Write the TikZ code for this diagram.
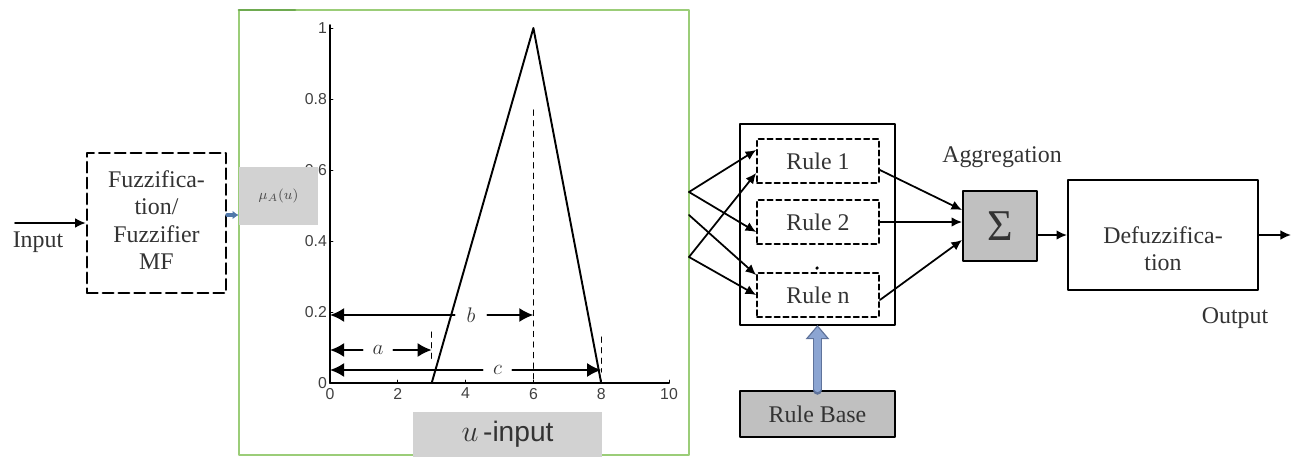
\documentclass[tikz,border=0pt]{standalone}
\usepackage{fontspec}
\setmainfont{Liberation Serif}
\setsansfont{Liberation Sans}
\usetikzlibrary{arrows.meta,positioning}
\definecolor{panelgreen}{RGB}{155,205,120}
\definecolor{darkgreen}{RGB}{110,170,80}
\definecolor{boxgray}{RGB}{192,192,192}
\definecolor{softgray}{RGB}{210,210,210}
\definecolor{arrowblue}{RGB}{140,165,210}
\definecolor{edgeblue}{RGB}{95,115,155}
\definecolor{smallblue}{RGB}{80,120,170}

\begin{document}
\begin{tikzpicture}[x=0.02cm,y=-0.02cm,line cap=round,line join=round,>={Latex[length=6pt,width=5.5pt]},
  every node/.style={inner sep=1pt},
  lbl/.style={font=\fontsize{13.6}{15.5}\selectfont,text=black!80,align=center},
  blockbox/.style={draw,line width=1.1pt,lbl},
  rulebox/.style={draw,densely dashed,line width=1pt,lbl,minimum width={122*0.02cm},minimum height={44*0.02cm}},
  ticklbl/.style={font=\sffamily\fontsize{9}{10}\selectfont,text=black!75},
  dimlbl/.style={font=\fontsize{11.5}{12}\selectfont,text=black!80,inner sep=0pt,minimum height=0.3cm},
  dimarrow/.style={-{Latex[length=8pt,width=8pt]},line width=1.2pt}]
  \useasboundingbox (0,0) rectangle (1292,457);
  % fuzzification
  \node[blockbox,dashed,dash pattern=on 6pt off 3pt,line width=1.4pt,minimum width={139*0.02cm},minimum height={140*0.02cm}] (fuzz) at (156.5,223) {};
  \node[lbl] at (156.5,220) {Fuzzifica-\\tion/\\Fuzzifier\\MF};
  \coordinate (in) at (15,223);
  \draw[->,line width=1.1pt] (in) -- (fuzz.west);
  \node[lbl] (inlbl) at (38,242) {Input};
  % membership panel
  \draw[panelgreen,line width=1.3pt] (239,10) rectangle (689,455);
  \draw[darkgreen,line width=1.6pt] (239,10) -- (295,10);
  \def\ox{330}
  \def\oy{383}
  \def\sx{33.9}
  \def\sy{355}
  \draw[line width=1pt] (\ox,\oy) -- ({\ox+10*\sx},\oy);
  \draw[line width=1pt] (\ox,\oy) -- (\ox,{\oy-\sy-3});
  \foreach \k in {0,2,...,10} {
    \draw[line width=0.5pt] ({\ox+\k*\sx},\oy) -- ({\ox+\k*\sx},{\oy-3});
    \node[ticklbl,anchor=north] at ({\ox+\k*\sx},{\oy+3}) {\k};
  }
  \foreach \v/\t in {0/0,0.2/0.2,0.4/0.4,0.6/0.6,0.8/0.8,1/1} {
    \draw[line width=0.5pt] (\ox,{\oy-\v*\sy}) -- ({\ox+3},{\oy-\v*\sy});
    \node[ticklbl,anchor=east] at ({\ox-1},{\oy-\v*\sy}) {\t};
  }
  \draw[line width=1.1pt] ({\ox+3*\sx},\oy) -- ({\ox+6*\sx},{\oy-\sy}) -- ({\ox+8*\sx},\oy);
  \draw[dashed,line width=0.6pt] ({\ox+6*\sx},110) -- ({\ox+6*\sx},\oy);
  \draw[dashed,line width=0.6pt] ({\ox+3*\sx},332) -- ({\ox+3*\sx},362);
  \draw[dashed,line width=0.6pt] ({\ox+8*\sx},337) -- ({\ox+8*\sx},372);
  \coordinate (a0) at (\ox,350);
  \coordinate (a1) at ({\ox+3*\sx},350);
  \coordinate (b0) at (\ox,315);
  \coordinate (b1) at ({\ox+6*\sx},315);
  \coordinate (c0) at (\ox,370);
  \coordinate (c1) at ({\ox+8*\sx},370);
  \node[dimlbl,minimum width=0.6cm] (la) at (378,350) {$a$};
  \node[dimlbl,minimum width=0.64cm] (lb) at (471,315) {$b$};
  \node[dimlbl,minimum width=0.58cm] (lc) at (497.5,370) {$c$};
  \draw[dimarrow] (la) -- (a0);
  \draw[dimarrow] (la) -- (a1);
  \draw[dimarrow] (lb) -- (b0);
  \draw[dimarrow] (lb) -- (b1);
  \draw[dimarrow] (lc) -- (c0);
  \draw[dimarrow] (lc) -- (c1);
  \node[fill=softgray,minimum width={79*0.02cm},minimum height={58*0.02cm},font=\fontsize{8}{9}\selectfont,text=black!70] (mubox) at (278.5,196) {$\mu_A(u)$};
  \node[fill=softgray,minimum width={189*0.02cm},minimum height={45*0.02cm},font=\fontsize{16}{18}\selectfont,text=black!80] (uin) at (507.5,434.5) {$u$\,\sffamily -input};
  \draw[smallblue,line width=2.2pt,-{Latex[length=3.5pt,width=5pt]}] ([yshift=0.16cm]fuzz.east) -- ([yshift=0.16cm]fuzz.east -| mubox.west);
  % rules
  \node[draw,line width=1.2pt,minimum width={155*0.02cm},minimum height={201*0.02cm}] (outer) at (817.5,224.5) {};
  \node[rulebox] (rule1) at (818,161) {Rule 1};
  \node[rulebox] (rule2) at (818,222) {Rule 2};
  \node[rulebox] (rulen) at (818,295) {Rule n};
  \fill (817,268) circle[radius=1pt];
  \coordinate (s1) at (689,192);
  \coordinate (s2) at (689,215);
  \coordinate (s3) at (689,257);
  \draw[->,line width=1pt] (s1) -- ([yshift=0.22cm]rule1.west);
  \draw[->,line width=1pt] (s1) -- ([yshift=-0.2cm]rule2.west);
  \draw[->,line width=1pt] (s2) -- ([yshift=0.4cm]rulen.west);
  \draw[->,line width=1pt] (s3) -- ([yshift=-0.24cm]rule1.west);
  \draw[->,line width=1pt] (s3) -- (rulen.west);
  \node[draw,line width=1.2pt,fill=boxgray,lbl,minimum width={155*0.02cm},minimum height={46*0.02cm}] (base) at (817.5,414) {Rule Base};
  \draw[edgeblue,line width=5.5pt,-{Triangle[length=8pt,width=13pt]}] (base.north) -- ([yshift=0.02cm]outer.south);
  \draw[arrowblue,line width=3.5pt,shorten <=0.6pt,-{Triangle[length=6.2pt,width=10pt]}] (base.north) -- ([yshift=-0.02cm]outer.south);
  % aggregation and defuzzification
  \node[blockbox,fill=boxgray,minimum width={74*0.02cm},minimum height={70*0.02cm},font=\fontsize{25}{26}\selectfont] (sigma) at (1000,226) {Σ};
  \node[lbl] (agg) at (1002,157) {Aggregation};
  \draw[->,line width=1pt] ([yshift=-0.18cm]rule1.east) -- ([yshift=0.32cm]sigma.west);
  \draw[->,line width=1pt] (rule2.east) -- (rule2.east -| sigma.west);
  \draw[->,line width=1pt] ([yshift=-0.1cm]rulen.east) -- ([yshift=-0.28cm]sigma.west);
  \node[blockbox,minimum width={190*0.02cm},minimum height={110*0.02cm}] (defuzz) at (1163,235) {};
  \node[lbl] at (1163,249) {Defuzzifica-\\tion};
  \draw[->,line width=1.1pt] (sigma.east |- defuzz) -- (defuzz.west);
  \coordinate (out) at (1291,235);
  \draw[->,line width=1.1pt] (defuzz.east) -- (out);
  \node[lbl] (outlbl) at (1235,318) {Output};
\end{tikzpicture}
\end{document}
